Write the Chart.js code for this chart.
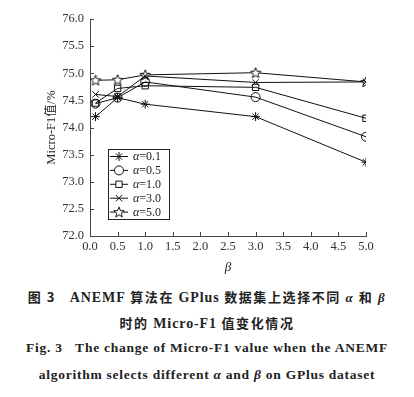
<!DOCTYPE html>
<html><head><meta charset="utf-8">
<script src="https://cdn.jsdelivr.net/npm/chart.js@4"></script>
<style>
html,body{margin:0;padding:0;background:#fff;width:414px;height:397px;overflow:hidden}
#wrap{position:relative;width:414px;height:275px}
.cap{position:absolute;left:0;width:414px;text-align:center;font-weight:bold;color:#222;white-space:nowrap}
.zh{font-family:"Noto Sans CJK SC","Liberation Serif",serif;font-size:13px;letter-spacing:1.6px}
.en{font-family:"Liberation Serif",serif;font-size:13.5px;letter-spacing:0.75px}
.zh .en{letter-spacing:0.9px}
i{font-family:"Liberation Serif",serif;font-style:italic}
</style></head><body>
<div id="wrap"><canvas id="c" width="414" height="275"></canvas></div>
<div class="cap zh" style="top:287px">图 3&nbsp;&nbsp;&nbsp;<span class="en" style="font-size:14px">ANEMF</span> 算法在 <span class="en" style="font-size:14px">GPlus</span> 数据集上选择不同 <i>α</i> 和 <i>β</i></div>
<div class="cap zh" style="top:313px">时的 <span class="en" style="font-size:14px">Micro-F1</span> 值变化情况</div>
<div class="cap en" style="top:340px">Fig. 3&nbsp;&nbsp;&nbsp;The change of Micro-F1 value when the ANEMF</div>
<div class="cap en" style="top:367px">algorithm selects different <i>α</i> and <i>β</i> on GPlus dataset</div>
<script>
const betaValues = [0.1, 0.5, 1.0, 3.0, 5.0];
const seriesLabels = ["α=0.1", "α=0.5", "α=1.0", "α=3.0", "α=5.0"];
const alpha01 = [74.20, 74.55, 74.43, 74.20, 73.36];
const alpha05 = [74.44, 74.55, 74.84, 74.56, 73.83];
const alpha10 = [74.45, 74.72, 74.77, 74.74, 74.17];
const alpha30 = [74.61, 74.57, 74.95, 74.83, 74.84];
const alpha50 = [74.87, 74.88, 74.97, 75.01, 74.84];
const yTicks = [72.0, 72.5, 73.0, 73.5, 74.0, 74.5, 75.0, 75.5, 76.0];
const xTicks = [0.0, 0.5, 1.0, 1.5, 2.0, 2.5, 3.0, 3.5, 4.0, 4.5, 5.0];

function starImg(){
  const c = document.createElement('canvas'); c.width = 12; c.height = 12;
  const g = c.getContext('2d');
  g.beginPath();
  for(let i=0;i<10;i++){
    const r = i%2===0 ? 5.5 : 2.4;
    const a = -Math.PI/2 + i*Math.PI/5;
    const x = 6 + r*Math.cos(a), y = 6.4 + r*Math.sin(a);
    i===0 ? g.moveTo(x,y) : g.lineTo(x,y);
  }
  g.closePath(); g.fillStyle='#fff'; g.fill();
  g.strokeStyle='#111'; g.lineWidth=1; g.stroke();
  return c;
}
const star5 = starImg();
const styles = ['star','circle','rect','crossRot',star5];
const radii = [4.5,4.5,4.5,4.5,5];
const allSeries = [alpha01, alpha05, alpha10, alpha30, alpha50];

const datasets = allSeries.map((vals,i)=>({
  label: seriesLabels[i],
  data: vals.map((v,j)=>({x:betaValues[j], y:v})),
  borderColor:'#111', borderWidth:1, backgroundColor:'#fff',
  pointStyle: styles[i], pointRadius: radii[i], pointBorderColor:'#111',
  pointBorderWidth:1, pointBackgroundColor: 'rgba(255,255,255,0)', tension:0
}));

const inTicks = {
  id:'inTicks',
  afterDraw(chart){
    const g = chart.ctx, a = chart.chartArea, xs = chart.scales.x, ys = chart.scales.y;
    g.save(); g.strokeStyle='#444'; g.lineWidth=1;
    g.beginPath();
    xTicks.forEach(t=>{ const p=Math.round(xs.getPixelForValue(t))+0.5; g.moveTo(p,a.bottom); g.lineTo(p,a.bottom-4); });
    yTicks.forEach(t=>{ const p=Math.round(ys.getPixelForValue(t))+0.5; g.moveTo(a.left,p); g.lineTo(a.left+4,p); });
    g.stroke();
    // legend box
    const bx=108.5, by=149.5, bw=61, bh=70;
    g.fillStyle='#fff'; g.fillRect(bx,by,bw,bh);
    g.strokeStyle='#222'; g.strokeRect(bx,by,bw,bh);
    chart.data.datasets.forEach((ds,i)=>{
      const cy = 156.5 + i*13.9;
      g.strokeStyle='#111'; g.lineWidth=1;
      g.beginPath(); g.moveTo(110,cy); g.lineTo(128,cy); g.stroke();
      g.fillStyle='#fff'; g.strokeStyle='#111';
      Chart.helpers.drawPoint(g,{pointStyle:ds.pointStyle, radius:ds.pointRadius, borderWidth:1}, 119, cy);
      g.fillStyle='#222'; g.textBaseline='middle'; g.textAlign='left';
      g.font='italic 12px "Liberation Serif"';
      g.fillText('α',133,cy+0.5);
      const w = g.measureText('α').width;
      g.font='12px "Liberation Serif"';
      g.fillText(ds.label.slice(1),133+w,cy+0.5);
    });
    g.restore();
  }
};

new Chart(document.getElementById('c'),{
  type:'line',
  data:{datasets},
  options:{
    responsive:false, animation:false,
    layout:{padding:{left:44,right:48,top:19,bottom:0}},
    plugins:{legend:{display:false},tooltip:{enabled:false}},
    scales:{
      x:{type:'linear',min:0,max:5,
        afterBuildTicks:s=>{s.ticks=xTicks.map(v=>({value:v}));},
        afterFit:s=>{s.height=39;},
        grid:{display:false,drawTicks:false},
        border:{display:true,color:'#444',width:1},
        ticks:{padding:3,color:'#333',font:{family:'"Liberation Serif"',size:12.5},callback:v=>Number(v).toFixed(1),maxRotation:0,autoSkip:false},
        title:{display:true,text:'β',color:'#222',font:{family:'"Liberation Serif"',size:13,style:'italic'},padding:{top:0,bottom:0}}
      },
      y:{min:72,max:76,
        afterBuildTicks:s=>{s.ticks=yTicks.map(v=>({value:v}));},
        afterFit:s=>{s.width=46;},
        grid:{display:false,drawTicks:false},
        border:{display:true,color:'#444',width:1},
        ticks:{padding:6,color:'#333',font:{family:'"Liberation Serif"',size:12.5},callback:v=>Number(v).toFixed(1),autoSkip:false},
        title:{display:true,text:'Micro-F1值/%',color:'#222',font:{family:'"Liberation Serif","Noto Sans CJK SC"',size:12.5},padding:{top:0,bottom:0}}
      }
    }
  },
  plugins:[inTicks]
});
</script>
</body></html>
